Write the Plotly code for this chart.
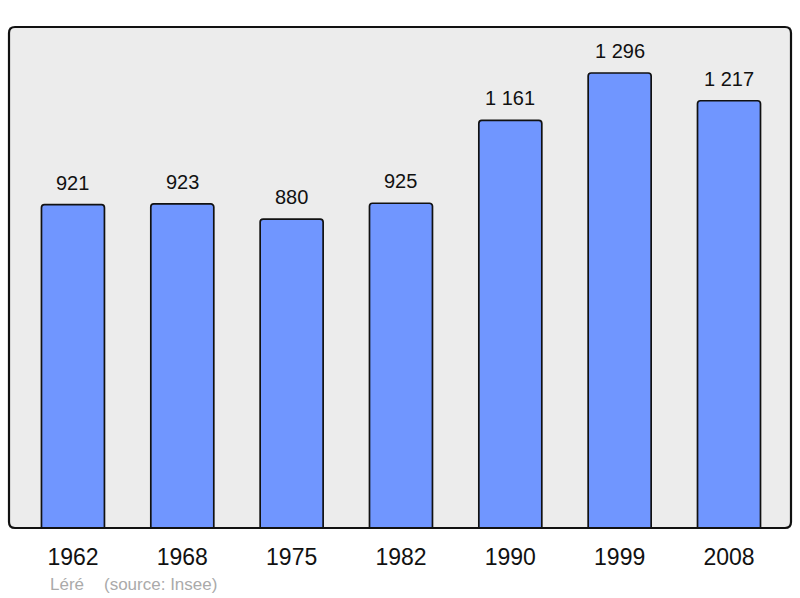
import plotly.graph_objects as go

years = ["1962", "1968", "1975", "1982", "1990", "1999", "2008"]
population = [921, 923, 880, 925, 1161, 1296, 1217]
commune = "Léré"
source = "(source: Insee)"

W, H = 800, 598
L, R, T, B = 9, 9, 27, 70
pw, ph = W - L - R, H - T - B
FONT = "Liberation Sans, Arial, sans-serif"

idx = list(range(len(years)))

fig = go.Figure()
fig.add_trace(go.Bar(
    x=idx, y=population, width=0.576,
    marker=dict(color="#7096ff", line=dict(color="#111111", width=1.7), cornerradius=3),
    hoverinfo="skip",
))

def fmt(v):
    return f"{v:,}".replace(",", " ")

for i, v in zip(idx, population):
    fig.add_annotation(x=i, y=v, text=fmt(v), showarrow=False,
                       xref="x", yref="y", yanchor="middle", yshift=22,
                       font=dict(family=FONT, size=20, color="#111111"))

# rounded border around plot area
rx, ry = 6 / pw, 6 / ph
path = (f"M {rx},0 L {1-rx},0 Q 1,0 1,{ry} L 1,{1-ry} Q 1,1 {1-rx},1 "
        f"L {rx},1 Q 0,1 0,{1-ry} L 0,{ry} Q 0,0 {rx},0 Z")
fig.add_shape(type="path", xref="paper", yref="paper", path=path,
              line=dict(color="#111111", width=2.2), fillcolor="rgba(0,0,0,0)", layer="above")

ysrc = -(584 - (T + ph)) / ph
fig.add_annotation(text=commune, xref="paper", yref="paper", x=(48 - L) / pw, y=ysrc,
                   xanchor="left", yanchor="middle", showarrow=False,
                   font=dict(family=FONT, size=17, color="#aaaaaa"))
fig.add_annotation(text=source, xref="paper", yref="paper", x=(102 - L) / pw, y=ysrc,
                   xanchor="left", yanchor="middle", showarrow=False,
                   font=dict(family=FONT, size=17, color="#aaaaaa"))

fig.update_layout(
    width=W, height=H,
    margin=dict(l=L, r=R, t=T, b=B, pad=0),
    paper_bgcolor="white", plot_bgcolor="#ececec",
    showlegend=False,
    hovermode=False,
    xaxis=dict(range=[-0.585, 6.567], showgrid=False, zeroline=False,
               tickmode="array", tickvals=idx, ticktext=years,
               ticks="outside", ticklen=8, tickcolor="rgba(0,0,0,0)", showline=False,
               tickfont=dict(family=FONT, size=23, color="#111111"),
               fixedrange=True),
    yaxis=dict(range=[0, 1427], showgrid=False, zeroline=False, showticklabels=False,
               showline=False, fixedrange=True),
)

# remove the default page margin so the figure fills the window exactly
fig.write_html("out.html",
               config={"displayModeBar": False, "staticPlot": True},
               post_script="document.body.style.margin='0';document.body.style.overflow='hidden';")
